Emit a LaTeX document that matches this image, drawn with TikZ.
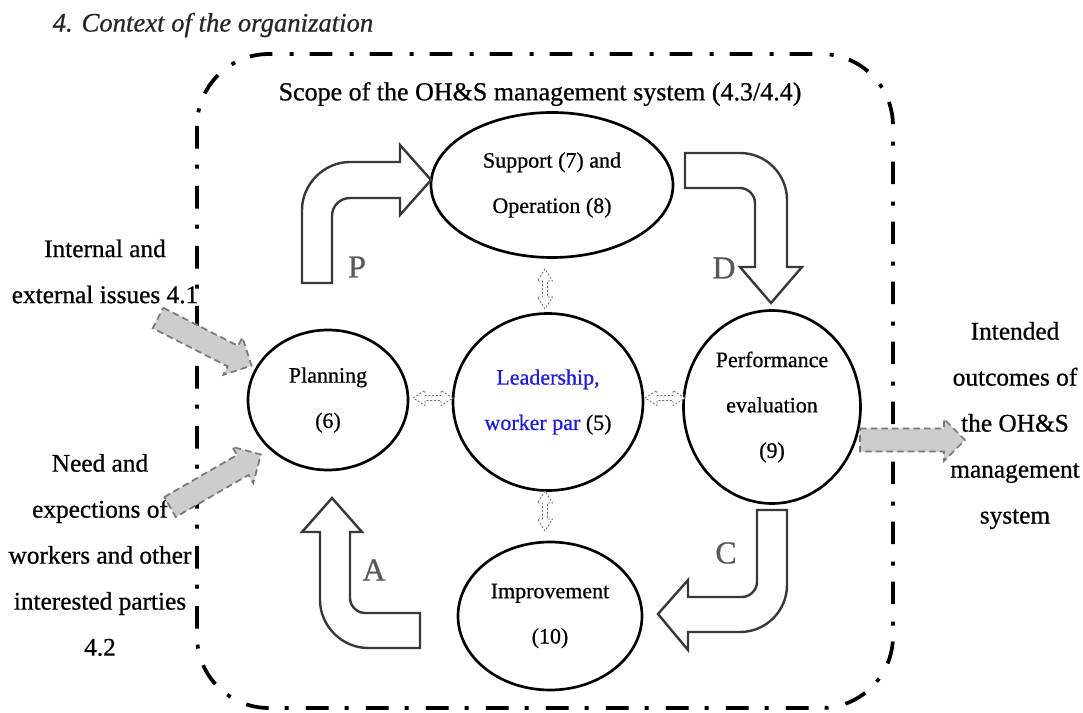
\documentclass[tikz,border=0pt]{standalone}
\usepackage{fontspec}
\setmainfont{Liberation Serif}[FakeBold=0.7]
\usetikzlibrary{shapes.geometric}
\definecolor{leadblue}{RGB}{30,30,215}
\definecolor{infill}{RGB}{205,205,205}
\definecolor{inedge}{RGB}{120,120,120}
\begin{document}
\begin{tikzpicture}[x=0.75pt,y=-0.75pt,
  scopeline/.style={line width=2.8pt,dash pattern=on 17pt off 12pt on 3pt off 13pt},
  proc/.style={ellipse,draw,line width=2pt,inner sep=0pt,align=center,
    font=\fontsize{16.5pt}{34pt}\selectfont},
  sidetext/.style={align=center,font=\fontsize{19pt}{34.5pt}\selectfont},
  blockarrow/.style={draw=black!78,line width=1.8pt,fill=white,line join=miter},
  pdca/.style={text=black!65,font=\fontsize{24pt}{24pt}\selectfont},
  smallarrow/.style={draw=black!55,line width=0.6pt,dash pattern=on 1.6pt off 1.2pt,fill=white},
  inarrow/.style={draw=inedge,fill=infill,line width=1.3pt,dash pattern=on 5pt off 3pt},
  dbl/.pic={\path[smallarrow] (-20,0) -- (-8,-7.5) -- (-8,-2.5) -- (8,-2.5) -- (8,-7.5) -- (20,0)
     -- (8,7.5) -- (8,2.5) -- (-8,2.5) -- (-8,7.5) -- cycle;},
  gin/.pic={\path[inarrow] (0,-11.5) -- (84,-11.5) -- (84,-21) -- (105,0) -- (84,21)
     -- (84,11.5) -- (0,11.5) -- cycle;}]
\useasboundingbox (0,0) rectangle (1083,713);

% title
\node[anchor=west,text=black!85,font=\itshape\fontsize{20pt}{20pt}\selectfont] (title) at (48,25) {4. Context of the organization};

% scope boundary
\draw[scopeline,rounded corners=54pt] (197,54) rectangle (893,708);
\node[font=\fontsize{19.5pt}{20pt}\selectfont] (scope) at (540,94) {Scope of the OH\&S management system (4.3/4.4)};

% process ellipses
\node[proc,minimum width=181.5pt,minimum height=108.75pt] (sup) at (552,185) {Support (7) and\\Operation (8)};
\node[proc,minimum width=120pt,minimum height=105pt] (plan) at (328,400) {Planning\\(6)};
\node[proc,minimum width=142.5pt,minimum height=132.75pt] (lead) at (548,402) {{\color{leadblue}Leadership,}\\{\color{leadblue}worker par} (5)};
\node[proc,minimum width=132.75pt,minimum height=144.75pt] (perf) at (772,407) {Performance\\evaluation\\(9)};
\node[proc,minimum width=138pt,minimum height=111pt] (imp) at (550,616) {Improvement\\(10)};

% PDCA block arrows
\draw[blockarrow] (302,283) -- (302,210) .. controls (302,184) and (324,162) .. (350,162) -- (400,162)
  -- (400,145) -- (431,180) -- (400,215) -- (400,198) -- (350,198)
  .. controls (340,198) and (332,206) .. (332,216) -- (332,283) -- cycle;
\draw[blockarrow] (685,153) -- (740,153) .. controls (766,153) and (787,174) .. (787,200) -- (787,267)
  -- (802,267) -- (771,303) -- (740,267) -- (755,267) -- (755,203)
  .. controls (755,195) and (748,188) .. (740,188) -- (685,188) -- cycle;
\draw[blockarrow] (757,510) -- (787,510) -- (787,585) .. controls (787,611) and (766,632) .. (740,632)
  -- (688,632) -- (688,650) -- (658,614) -- (688,580) -- (688,597) -- (742,597)
  .. controls (750,597) and (757,590) .. (757,582) -- cycle;
\draw[blockarrow] (420,613) -- (365,613) .. controls (357,613) and (350,606) .. (350,598) -- (350,532)
  -- (362,532) -- (332,498) -- (302,532) -- (320,532) -- (320,600)
  .. controls (320,626) and (342,648) .. (368,648) -- (420,648) -- cycle;

\node[pdca] (P) at (357,267) {P};
\node[pdca] (D) at (724,268) {D};
\node[pdca] (A) at (374,570) {A};
\node[pdca] (C) at (726,553) {C};

% small double arrows
\pic at (433,398) {dbl};
\pic at (665,398) {dbl};
\pic[rotate=90] at (545,289) {dbl};
\pic[rotate=90] at (545,511) {dbl};

% inputs and outputs
\node[sidetext] (int) at (105,271.5) {Internal and\\external issues 4.1};
\node[sidetext] (need) at (100,555) {Need and\\expections of\\workers and other\\interested parties\\4.2};
\node[sidetext] (out) at (1015,425.5) {Intended\\outcomes of\\the OH\&S\\management\\system};

\pic[rotate=-27] at (158,318) {gin};
\pic[rotate=30] at (170,507) {gin};
\pic at (860,440) {gin};
\end{tikzpicture}
\end{document}
